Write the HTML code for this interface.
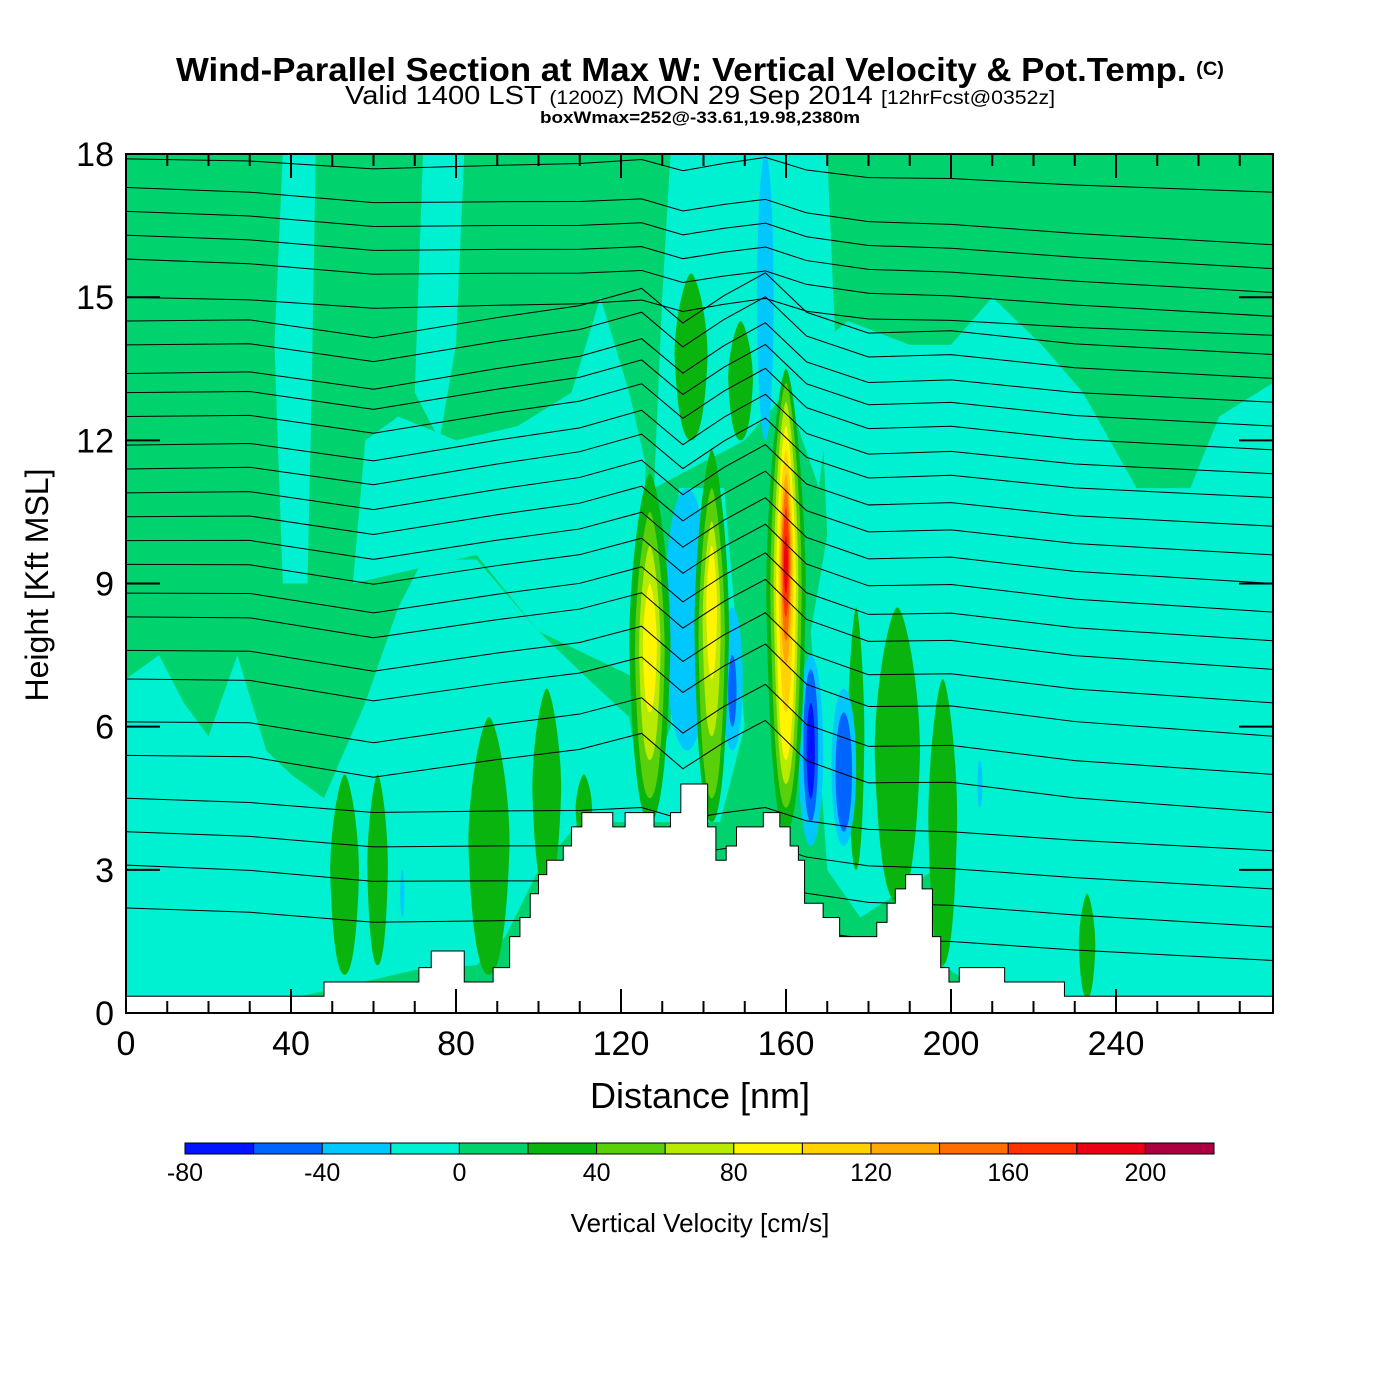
<!DOCTYPE html>
<html><head><meta charset="utf-8">
<style>
html,body{margin:0;padding:0;background:#fff;}
svg{display:block;font-family:"Liberation Sans",Arial,sans-serif;}
</style></head>
<body>
<svg id="chart" width="1400" height="1400" viewBox="0 0 1400 1400" xmlns="http://www.w3.org/2000/svg">
<text x="700" y="81" text-anchor="middle" font-size="33" font-weight="bold" textLength="1048" lengthAdjust="spacingAndGlyphs">Wind-Parallel Section at Max W: Vertical Velocity &amp; Pot.Temp. <tspan font-size="19" dy="-6">(C)</tspan></text>
<text x="700" y="104" text-anchor="middle" font-size="26" textLength="710" lengthAdjust="spacingAndGlyphs">Valid 1400 LST <tspan font-size="19">(1200Z)</tspan> MON 29 Sep 2014 <tspan font-size="19">[12hrFcst@0352z]</tspan></text>
<text x="700" y="123" text-anchor="middle" font-size="17" font-weight="bold" textLength="320" lengthAdjust="spacingAndGlyphs">boxWmax=252@-33.61,19.98,2380m</text>
<defs><clipPath id="plotclip"><rect x="126" y="154" width="1147" height="859"/></clipPath></defs>
<g id="plot" clip-path="url(#plotclip)"></g>
<rect x="126" y="154" width="1147" height="859" fill="none" stroke="#000" stroke-width="2"/>
<g id="axes"></g>
<g id="cbar"></g>
<text x="700" y="1108" text-anchor="middle" font-size="36">Distance [nm]</text>
<text transform="translate(48,585) rotate(-90)" text-anchor="middle" font-size="32">Height [Kft MSL]</text>
<text x="700" y="1232" text-anchor="middle" font-size="26">Vertical Velocity [cm/s]</text>
</svg>
<script>
// ---- data ----
const levels = [-80,-60,-40,-20,0,20,40,60,80,100,120,140,160,180,200,220];
const colors = ["#0014ff","#0064ff","#00c8ff","#00f0d2","#00d26e","#0ab40f","#5ad00a","#b9eb00","#fff500","#ffd200","#ffaa00","#ff6e00","#ff3200","#eb0014","#aa0041"];
const xTicks = [0,40,80,120,160,200,240];
const yTicks = [0,3,6,9,12,15,18];
const cbarLabels = [-80,-40,0,40,80,120,160,200];
// turquoise (-20..0) regions [nm,kft]
const turqRegions = [
 [[0,0],[0,7],[8,7.5],[14,6.5],[20,5.8],[27,7.5],[34,5.5],[40,5],[48,4.5],[58,6.5],[66,8.5],[72,9.5],[85,9.5],[100,8],[112,7],[122,6.2],[126,4],[110,4],[100,3],[92,1.6],[85,1],[70,0.9],[40,0.3]],
 [[55,9],[58,12],[66,12.5],[80,12],[95,12.3],[108,13],[115,15],[122,13],[126,11.5],[124,7],[100,8],[85,9.6]],
 [[38,9],[36,14],[38,18],[46,18],[45,13],[44,9]],
 [[70,13],[72,18],[82,18],[80,14],[76,12]],
 [[128,11],[130,15],[132,18],[170,18],[172,14],[168,11],[160,13],[150,12]],
 [[168,14],[175,14.5],[190,14],[200,14],[210,15],[222,14],[232,13],[245,11],[258,11],[265,12.5],[278,13.2],[278,0],[228,0],[220,0.6],[205,0.6],[198,1],[196,3],[178,2],[170,3],[166,8],[170,10]],
 [[128,4],[128,5],[132,6],[134,11],[145,11],[150,6],[144,4]]
];
// dark-green (20..40) strips: [xCenter nm, bottom kft, top kft, half-width nm]
const greenStrips = [[53,0.8,5,3.5],[61,1,5,2.5],[88,0.8,6.2,5],[102,2.5,6.8,3.5],[111,3.5,5,2],[187,2.3,8.5,5.5],[198,1,7,3.5],[233,0.3,2.5,2],[137,12,15.5,4],[149,12,14.5,3],[177,3,8.5,2]];
// blue downdraft blobs: [x, bottom, top, halfwidth, value]
const downBlobs = [
 [136,5.5,11,5.5,-30],[147,5.5,8.5,2.5,-30],[147,6,7.5,1,-50],[155,12,18,2,-30],
 [166,3.5,7.5,3,-30],[166,4,7.2,1.8,-50],[166,4.5,6.5,1,-70],
 [174,3.5,6.8,3,-30],[174,3.8,6.3,2,-50],[207,4.3,5.3,0.6,-30],[67,2,3,0.5,-30]
];
// updraft plumes: [x, bottom, top, halfwidth, value]
const upBlobs = [
 [127,4,11.3,5,30],[127,4.5,10.5,3.6,50],[127,5.3,9.8,2.6,70],[127,6.3,9,1.7,90],
 [142,4,11.8,4.2,30],[142,4.5,11,3.2,50],[142,5.8,10.3,2.2,70],[142,7,9.8,1.3,90],
 [160,3.8,13.5,4.8,30],[160,4.3,13.2,3.8,50],[160,4.8,12.8,3,70],[160,5.3,12.3,2.4,90],[160,6.3,11.8,1.8,110],[160,7.3,11.3,1.4,130],[160,7.8,11,1.1,150],[160,8.3,10.6,0.8,170],[160,8.8,10,0.5,190]
];
// terrain steps [nm, kft]
const terrain = [[0,0.35],[48,0.35],[48,0.65],[71,0.65],[71,0.95],[74,0.95],[74,1.3],[82,1.3],[82,0.65],[89,0.65],[89,0.95],[93,0.95],[93,1.6],[95.5,1.6],[95.5,2],[98,2],[98,2.5],[100,2.5],[100,2.9],[102,2.9],[102,3.2],[106,3.2],[106,3.5],[108,3.5],[108,3.9],[110.5,3.9],[110.5,4.2],[118,4.2],[118,3.9],[121,3.9],[121,4.2],[128,4.2],[128,3.9],[132,3.9],[132,4.2],[134.5,4.2],[134.5,4.8],[141,4.8],[141,3.9],[143,3.9],[143,3.2],[145.5,3.2],[145.5,3.5],[148,3.5],[148,3.9],[154.5,3.9],[154.5,4.2],[158.5,4.2],[158.5,3.9],[161,3.9],[161,3.5],[163,3.5],[163,3.2],[164.5,3.2],[164.5,2.3],[169,2.3],[169,2],[173,2],[173,1.6],[182,1.6],[182,1.9],[184.5,1.9],[184.5,2.3],[186.5,2.3],[186.5,2.6],[189,2.6],[189,2.9],[193,2.9],[193,2.6],[195.5,2.6],[195.5,1.6],[197.5,1.6],[197.5,0.95],[199.5,0.95],[199.5,0.65],[202,0.65],[202,0.95],[213,0.95],[213,0.65],[227.5,0.65],[227.5,0.35],[280,0.35],[280,0],[0,0]];
// potential temperature contours: height (kft) at left edge and right edge
const thetaLeft = [17.9,17.3,16.8,16.3,15.8,15.0,14.5,14.0,13.4,13.0,12.5,11.9,11.4,10.9,10.4,9.9,9.4,8.8,8.3,7.6,7.0,6.1,5.4,4.5,3.8,3.1,2.2];
const thetaRight = [17.2,16.1,15.6,15.1,14.6,14.2,13.8,13.3,12.8,12.3,11.8,11.3,10.8,10.2,9.6,9.0,8.4,7.8,7.2,6.5,5.8,5.0,4.2,3.4,2.6,1.8,1.1];
const thetaNodes = [0,30,60,90,110,125,135,145,155,165,180,200,230,278];
const thetaBump = [0,0.1,-0.2,0.3,0.6,1.0,0.3,0.9,1.4,0.6,0.2,0.3,0.1,0];

// ---- axes functions ----
const X = nm => 126 + nm*4.125;
const Y = k => 1013 - k*47.72;
const NS = "http://www.w3.org/2000/svg";
const plot = document.getElementById('plot');
function mk(tag, attrs, parent){const e=document.createElementNS(NS,tag);for(const k in attrs)e.setAttribute(k,attrs[k]);parent.appendChild(e);return e;}
function colorFor(v){for(let i=0;i<colors.length;i++){if(v>=levels[i]&&v<levels[i+1])return colors[i];}return colors[colors.length-1];}

let bg = mk('rect',{x:126,y:154,width:1147,height:859,fill:colorFor(10)},plot);



turqRegions.forEach((poly,i)=>{
  const p = mk('polygon',{points:poly.map(q=>X(q[0])+','+Y(q[1])).join(' '),fill:colorFor(-10)},plot);
  
  
});
function plume(b){
  const [x,b0,t,hw,v]=b; const cx=X(x), y0=Y(b0), y1=Y(t), w=hw*4.125, h=y0-y1;
  const d=`M${cx},${y0} C${cx-w*0.9},${y0} ${cx-w},${y0-h*0.55} ${cx-w},${y0-h*0.5} C${cx-w},${y1+h*0.25} ${cx-w*0.3},${y1} ${cx},${y1} C${cx+w*0.3},${y1} ${cx+w},${y1+h*0.25} ${cx+w},${y0-h*0.5} C${cx+w},${y0-h*0.55} ${cx+w*0.9},${y0} ${cx},${y0} Z`;
  return mk('path',{d:d,fill:colorFor(v)},plot);
}
greenStrips.forEach(s=>{
  const e=plume([s[0],s[1],s[2],s[3],30]);
  
  
});
downBlobs.forEach(b=>{
  const e=mk('ellipse',{cx:X(b[0]),cy:(Y(b[1])+Y(b[2]))/2,rx:b[3]*4.125,ry:(Y(b[1])-Y(b[2]))/2,fill:colorFor(b[4])},plot);
  
  
});
upBlobs.forEach(b=>{
  const e=plume(b);
  
  
});
// theta contours
thetaLeft.forEach((hl,i)=>{
  const hr=thetaRight[i];
  const amp = (hl>5 && hl<15) ? 1 : 0.3;
  const pts = thetaNodes.map((n,j)=>{const h=hl+(hr-hl)*n/278+thetaBump[j]*amp;return X(n)+','+Y(h);});
  const l=mk('polyline',{points:pts.join(' '),fill:'none',stroke:'#000','stroke-width':1},plot);
  
  
});
// terrain
const ter = mk('polygon',{points:terrain.map(q=>X(q[0])+','+Y(q[1])).join(' '),fill:'#fff',stroke:'#000','stroke-width':1},plot);



// ticks & labels
const axes=document.getElementById('axes');
for(let n=0;n<=270;n+=10){
  const major = n%40===0, len = major?24:12;
  const t1=mk('line',{x1:X(n),x2:X(n),y1:1013,y2:1013-len,stroke:'#000','stroke-width':2},axes);
  
  
  const t2=mk('line',{x1:X(n),x2:X(n),y1:154,y2:154+len,stroke:'#000','stroke-width':2},axes);
  
  
}
xTicks.forEach(n=>{
  const t=mk('text',{x:X(n),y:1055,'text-anchor':'middle','font-size':34},axes);t.textContent=n;
  
  
});
yTicks.forEach(k=>{
  const a=mk('line',{x1:126,x2:160,y1:Y(k),y2:Y(k),stroke:'#000','stroke-width':2},axes);
  
  
  const b=mk('line',{x1:1239,x2:1273,y1:Y(k),y2:Y(k),stroke:'#000','stroke-width':2},axes);
  
  
  const t=mk('text',{x:114,y:Y(k)+12,'text-anchor':'end','font-size':34},axes);t.textContent=k;
  
  
});
// colorbar
const cb=document.getElementById('cbar');
const cbX = v => 185 + (v+80)*(1029/300);
colors.forEach((c,i)=>{
  const r=mk('rect',{x:cbX(levels[i]),y:1143,width:cbX(levels[i+1])-cbX(levels[i]),height:11,fill:c,stroke:'#000','stroke-width':1},cb);
  
  
});
cbarLabels.forEach(v=>{
  const t=mk('text',{x:cbX(v),y:1181,'text-anchor':'middle','font-size':25},cb);t.textContent=v;
  
  
});
</script>
</body></html>
